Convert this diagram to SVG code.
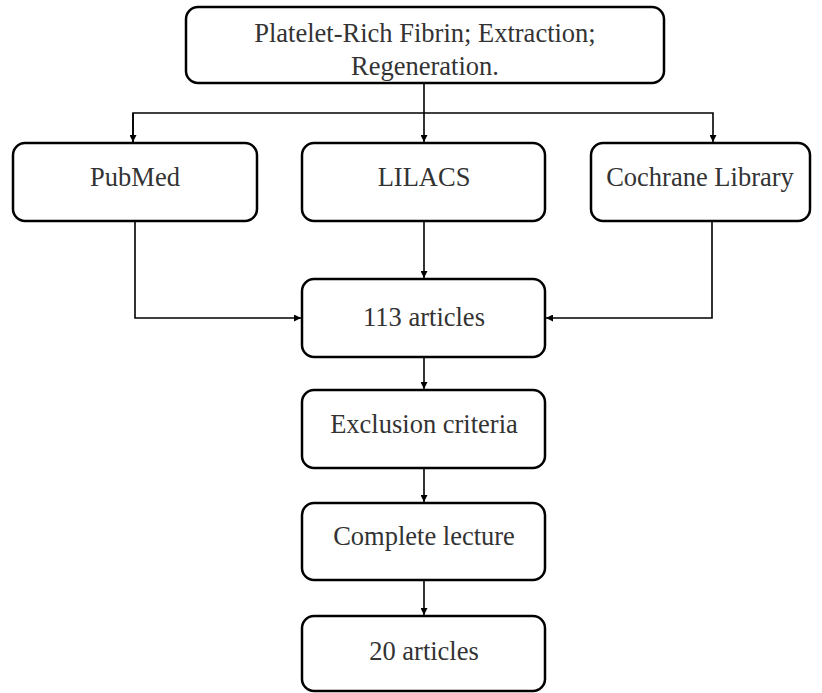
<svg xmlns="http://www.w3.org/2000/svg" width="822" height="693" viewBox="0 0 822 693">
<style>
.box{fill:#fff;stroke:#000;stroke-width:2.5}
.t{font-family:"Liberation Serif",serif;font-size:26.5px;fill:#333;text-anchor:middle}
.c{fill:none;stroke:#000;stroke-width:1.6}
</style>
<defs>
<marker id="ah" viewBox="0 0 10 10" refX="10" refY="5" markerWidth="8" markerHeight="7" markerUnits="userSpaceOnUse" orient="auto">
<path d="M0,0 L10,5 L0,10 Z" fill="#000"/>
</marker>
</defs>
<rect width="822" height="693" fill="#fff"/>
<g id="connectors">
<path class="c" d="M424,83 V142" marker-end="url(#ah)"/>
<path class="c" d="M133,142 V113 H713 V142" marker-end="url(#ah)"/>
<path class="c" d="M133,113 V142" marker-end="url(#ah)"/>
<path class="c" d="M424,221 V278" marker-end="url(#ah)"/>
<path class="c" d="M135,221 V318 H301" marker-end="url(#ah)"/>
<path class="c" d="M712,221 V318 H546" marker-end="url(#ah)"/>
<path class="c" d="M424,357 V389" marker-end="url(#ah)"/>
<path class="c" d="M424,468 V502" marker-end="url(#ah)"/>
<path class="c" d="M424,580 V615" marker-end="url(#ah)"/>
</g>
<g id="top">
<rect class="box" x="186" y="7" width="478" height="76" rx="12"/>
<text class="t" x="425" y="42">Platelet-Rich Fibrin; Extraction;</text>
<text class="t" x="425" y="75">Regeneration.</text>
</g>
<g id="pubmed">
<rect class="box" x="13" y="143" width="244" height="78" rx="12"/>
<text class="t" x="135" y="186">PubMed</text>
</g>
<g id="lilacs">
<rect class="box" x="302" y="143" width="243" height="78" rx="12"/>
<text class="t" x="424" y="186">LILACS</text>
</g>
<g id="cochrane">
<rect class="box" x="591" y="143" width="219" height="78" rx="12"/>
<text class="t" x="700" y="186">Cochrane Library</text>
</g>
<g id="articles113">
<rect class="box" x="302" y="279" width="243" height="78" rx="12"/>
<text class="t" x="424" y="326">113 articles</text>
</g>
<g id="exclusion">
<rect class="box" x="302" y="390" width="243" height="78" rx="12"/>
<text class="t" x="424" y="433">Exclusion criteria</text>
</g>
<g id="lecture">
<rect class="box" x="302" y="503" width="243" height="77" rx="12"/>
<text class="t" x="424" y="545">Complete lecture</text>
</g>
<g id="articles20">
<rect class="box" x="302" y="616" width="243" height="75" rx="12"/>
<text class="t" x="424" y="660">20 articles</text>
</g>
</svg>
